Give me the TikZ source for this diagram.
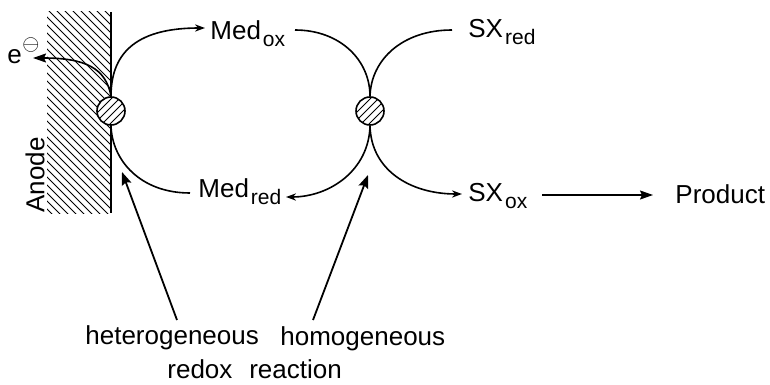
\documentclass[tikz,border=0pt]{standalone}
\usepackage{fontspec}
\setmainfont{Liberation Sans}
\usetikzlibrary{arrows.meta}
\newcommand\lsub[1]{\kern1pt\raisebox{-3.5pt}{\fontsize{10.5}{12}\selectfont #1}}
\begin{document}
\begin{tikzpicture}[x=0.5pt,y=-0.5pt,
  lbl/.style={font=\fontsize{13}{15}\selectfont, inner sep=0pt, anchor=base west},
  conn/.style={line width=0.8pt},
  tipS/.style={-{Stealth[length=5pt,width=3.6pt]}},
  tipL/.style={-{Stealth[length=6.5pt,width=4.5pt,inset=1pt]}},
  ptr/.style={line width=0.9pt,-{Stealth[length=6.5pt,width=5pt,inset=1pt]}},
  hatch/.style={line width=0.5pt},
  hcirc/.style={circle, draw, line width=0.8pt, fill=white, minimum size=14pt, inner sep=0pt,
     path picture={\foreach \d/\e in {-3/3,-1/1,1/-1,3/-3}{\draw[hatch] ([shift={(\d pt-10pt,\e pt-10pt)}]path picture bounding box.center) -- ++(20pt,20pt);}}}
]
\useasboundingbox (0,0) rectangle (770,385);
% anode
\begin{scope}
\clip (47,12) rectangle (111,213);
\foreach \c in {-170,-162,...,106} \draw[line width=0.45pt] (\c,0) -- ++(240,240);
\end{scope}
\draw[line width=1pt] (111,12) -- (111,213);
\node[font=\fontsize{13}{15}\selectfont, rotate=90, inner sep=0pt] (anode) at (35,175) {Anode};
% reaction sites
\node[hcirc] (c1) at (111,111) {};
\node[hcirc] (c2) at (370,111) {};
% labels
\node[lbl] (el) at (7,64) {e\kern0.3pt\raisebox{6.5pt}{\fontsize{11}{11}\selectfont$\ominus$}};
\node[lbl] (medox) at (210,40) {Med\lsub{ox}};
\node[lbl] (medred) at (198,197) {Med\lsub{red}};
\node[lbl] (sxred) at (468,38) {SX\lsub{red}};
\node[lbl] (sxox) at (468,201) {SX\lsub{ox}};
\node[lbl] (prod) at (675,203) {Product};
\node[lbl] (het) at (85,344) {heterogeneous};
\node[lbl] (hom) at (280,345) {homogeneous};
\node[lbl] (redox) at (167,378) {redox\hspace{0.65em}reaction};
% connector ends
\coordinate (tMedox) at (205,28);
\coordinate (tE) at (33,58);
\coordinate (eMedredL) at (190,193);
\coordinate (sMedoxR) at (295,30);
\coordinate (sSXred) at (452,30);
\coordinate (tMedred) at (286,197);
\coordinate (tSXox) at (462,194);
\coordinate (sProd) at (542,195);
\coordinate (tProd) at (653,195);
\coordinate (pHet) at (177,320);
\coordinate (tHet) at (122,172);
\coordinate (pHom) at (313,320);
\coordinate (tHom) at (368,175);
% connectors
\draw[conn,tipS] (c1.north) .. controls (111,50) and (140,28) .. (tMedox);
\draw[conn,tipL] (c1.north) .. controls (106,68) and (85,58) .. (tE);
\draw[conn] (c1.south) .. controls (112,160) and (140,193) .. (eMedredL);
\draw[conn] (sMedoxR) .. controls (340,30) and (370,60) .. (c2.north);
\draw[conn] (sSXred) .. controls (402,30) and (371,60) .. (c2.north);
\draw[conn,tipS] (c2.south) .. controls (369,170) and (330,197) .. (tMedred);
\draw[conn,tipS] (c2.south) .. controls (371,170) and (410,194) .. (tSXox);
\draw[conn,tipL] (sProd) -- (tProd);
\draw[ptr] (pHet) -- (tHet);
\draw[ptr] (pHom) -- (tHom);
\end{tikzpicture}
\end{document}
